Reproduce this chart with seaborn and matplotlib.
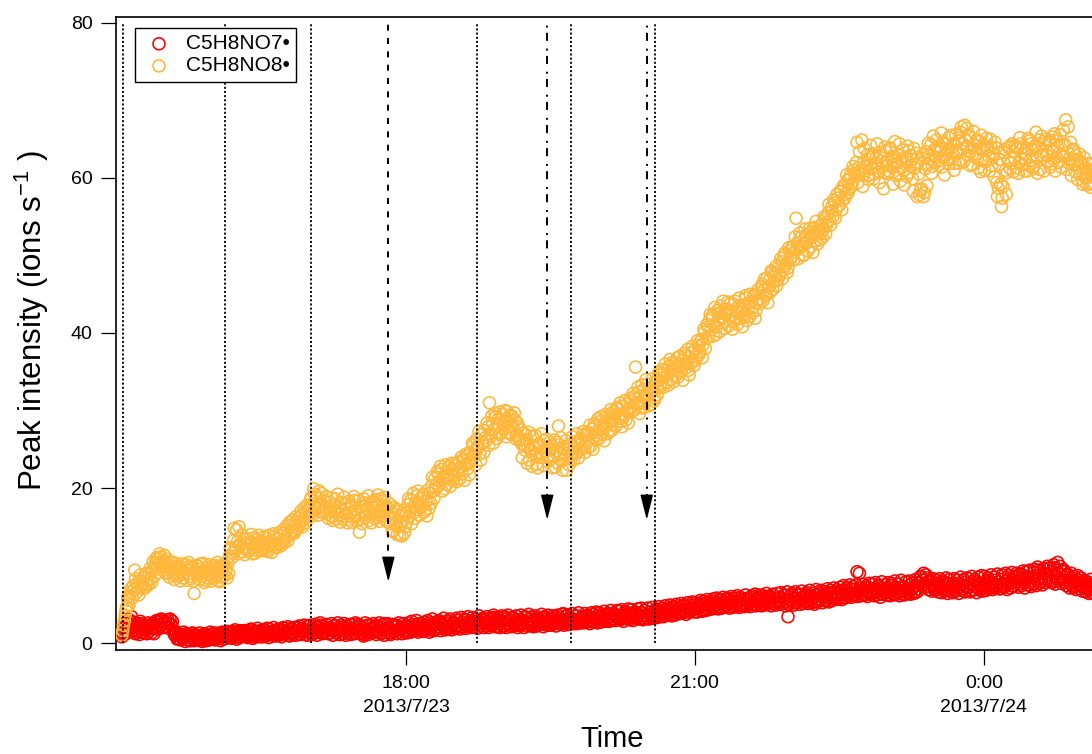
import numpy as np
import pandas as pd
import matplotlib
matplotlib.use('Agg')
import matplotlib.pyplot as plt
import matplotlib.dates as mdates
import seaborn as sns

# ---------------- data: samples every 30 s from 2013-07-23 15:03 ----------------
# "_min" lists hold the samples on the minute, "_half" lists the samples 30 s later
start_min = '2013-07-23 15:03:00'
start_half = '2013-07-23 15:03:30'

c5h8no7_min = [
    0.8, 1.3, 2.6, 1.5, 3.1, 2.0, 3.4,
    1.6, 2.3, 1.4, 2.0, 1.1, 2.5, 1.7, 1.3, 2.2, 1.8,
    1.5, 2.4, 1.9, 1.2, 2.1, 2.7, 2.9, 2.2, 3.0, 2.5,
    2.8, 2.1, 2.6, 3.1, 2.3, 1.6, 1.0, 1.3, 0.6, 0.9,
    1.1, 0.5, 0.8, 1.2, 0.4, 0.9, 0.7, 1.3, 0.3, 0.8,
    1.0, 0.6, 0.9, 0.2, 0.7, 1.1, 0.5, 0.8, 1.4, 0.6,
    0.9, 0.4, 1.0, 0.7, 1.2, 0.8, 0.5, 1.1, 0.9, 1.3,
    0.8, 1.2, 1.5, 0.9, 1.1, 1.4, 0.7, 1.3, 1.0, 1.6,
    1.2, 0.9, 1.4, 1.1, 1.7, 0.8, 1.3, 1.5, 1.0, 1.2,
    1.6, 1.1, 1.4, 0.9, 1.3, 1.8, 1.2, 1.5, 1.0, 1.4,
    1.7, 1.2, 1.5, 1.1, 1.9, 1.3, 1.6, 1.0, 1.4, 1.8,
    1.3, 1.6, 2.0, 1.2, 1.5, 1.8, 1.4, 1.1, 1.7, 2.2,
    1.5, 1.9, 1.3, 1.7, 2.1, 1.4, 1.6, 2.3, 1.2, 1.8,
    1.5, 2.0, 1.7, 1.3, 1.9, 1.6, 2.2, 1.4, 1.8, 1.1,
    1.7, 2.1, 1.5, 1.9, 1.3, 2.4, 1.6, 1.8, 1.2, 2.0,
    1.6, 2.2, 1.4, 1.9, 1.1, 1.7, 2.3, 1.5, 1.8, 2.0,
    1.4, 1.9, 2.2, 1.6, 1.3, 2.0, 1.7, 2.5, 1.5, 1.9,
    1.8, 1.3, 2.1, 1.6, 2.3, 1.7, 1.4, 2.0, 1.9, 1.5,
    2.2, 1.7, 2.0, 1.4, 2.4, 1.9, 1.6, 2.3, 1.8, 2.1,
    2.5, 1.8, 2.2, 1.6, 2.0, 2.6, 1.9, 2.3, 1.7, 2.4,
    2.1, 2.7, 1.9, 2.3, 2.0, 2.5, 1.8, 2.8, 2.2, 2.4,
    2.6, 2.0, 2.9, 2.3, 2.1, 2.7, 2.4, 3.0, 2.2, 2.5,
    2.8, 2.3, 2.6, 3.1, 2.4, 2.9, 2.2, 2.7, 3.2, 2.5,
    2.3, 2.8, 2.6, 3.0, 2.4, 3.3, 2.7, 2.1, 2.9, 2.5,
    2.8, 2.2, 3.1, 2.6, 2.4, 2.9, 3.2, 2.5, 2.7, 2.3,
    3.0, 2.6, 2.4, 2.9, 3.4, 2.7, 2.5, 3.1, 2.2, 2.8,
    2.6, 3.2, 2.4, 2.9, 2.7, 3.3, 2.5, 3.0, 2.8, 2.3,
    3.1, 2.7, 2.5, 3.4, 2.9, 2.6, 3.2, 2.8, 3.8, 2.7,
    3.0, 2.6, 3.3, 2.9, 3.1, 2.7, 3.5, 3.0, 2.8, 3.2,
    3.4, 2.9, 3.1, 3.6, 2.8, 3.3, 3.0, 3.7, 3.2, 2.9,
    3.5, 3.1, 3.3, 2.9, 3.6, 3.2, 3.8, 3.0, 3.4, 3.1,
    3.7, 3.3, 3.5, 4.1, 3.2, 3.6, 3.4, 3.9, 3.1, 3.5,
    3.8, 3.3, 3.6, 4.0, 3.4, 3.7, 3.2, 3.9, 3.5, 3.1,
    3.6, 3.3, 4.0, 3.5, 3.8, 3.4, 3.9, 4.2, 3.7, 4.0,
    3.8, 4.3, 3.9, 4.5, 4.1, 3.7, 4.4, 4.0, 4.6, 4.2,
    4.5, 4.1, 4.8, 4.3, 4.0, 4.7, 4.4, 4.9, 4.2, 4.6,
    4.4, 4.9, 4.5, 5.1, 4.7, 4.3, 5.0, 4.6, 5.3, 4.8,
    5.0, 4.6, 5.4, 4.9, 5.2, 4.7, 5.5, 5.1, 4.8, 5.3,
    4.9, 5.6, 5.2, 4.7, 5.4, 5.0, 5.8, 5.3, 4.9, 5.5,
    5.2, 5.7, 4.9, 5.4, 5.1, 5.9, 5.3, 5.6, 4.8, 5.5,
    5.4, 5.0, 5.8, 5.3, 5.6, 6.0, 5.2, 5.7, 5.4, 5.1,
    5.8, 5.5, 5.2, 5.9, 5.4, 5.7, 6.1, 5.3, 3.4, 5.6,
    5.5, 5.9, 5.2, 5.7, 6.2, 5.4, 5.8, 5.5, 6.0, 5.3,
    5.7, 5.4, 6.1, 5.6, 5.9, 5.3, 6.3, 5.7, 5.5, 6.0,
    5.8, 6.2, 5.6, 6.5, 5.9, 6.3, 6.0, 6.6, 5.8, 6.4,
    6.1, 6.7, 6.3, 5.9, 6.8, 6.4, 6.2, 7.0, 6.5, 6.9,
    6.3, 9.2, 6.6, 7.1, 6.4, 6.9, 6.2, 6.7, 7.2, 6.5,
    6.8, 6.4, 7.0, 6.6, 7.3, 6.7, 6.3, 7.1, 6.9, 6.5,
    7.0, 6.6, 7.4, 6.8, 6.2, 7.2, 6.9, 6.5, 7.1, 6.7,
    7.3, 6.8, 7.0, 6.4, 7.5, 6.9, 7.2, 6.6, 7.4, 7.0,
    7.8, 8.5, 8.1, 7.6, 8.8, 7.9, 7.3, 8.2, 7.5, 7.1,
    7.4, 6.9, 7.6, 7.2, 7.8, 7.0, 7.5, 6.8, 7.7, 7.3,
    7.1, 7.6, 7.3, 6.9, 7.7, 7.2, 7.5, 7.0, 7.8, 7.4,
    7.2, 7.7, 6.8, 7.5, 7.3, 7.9, 7.1, 7.6, 7.4, 7.0,
    7.6, 7.3, 8.0, 7.5, 7.8, 7.2, 7.7, 8.1, 7.4, 7.9,
    7.5, 8.2, 7.7, 7.3, 8.0, 7.6, 8.4, 7.8, 7.4, 8.1,
    7.9, 8.5, 7.6, 8.2, 8.8, 7.8, 8.3, 8.6, 7.5, 8.0,
    8.4, 9.1, 8.7, 8.1, 9.4, 8.5, 7.9, 9.0, 8.3, 8.8,
    9.6, 8.4, 9.2, 8.0, 9.7, 8.6, 10.4, 8.9, 8.2, 9.3,
    8.5, 7.8, 8.9, 8.1, 7.6, 8.4, 7.9, 7.3, 8.1, 7.6,
    7.4, 7.9, 7.2, 7.7, 7.0, 7.5, 6.9, 7.3, 7.1, 6.8,
]

c5h8no7_half = [
    1.1, 2.0, 1.2, 2.7, 1.9, 2.8, 2.4,
    2.7, 1.2, 2.5, 1.6, 2.8, 1.4, 2.3, 2.0, 1.2, 2.6,
    2.2, 1.3, 2.5, 1.9, 2.9, 1.8, 2.4, 3.1, 2.0, 2.8,
    2.0, 3.0, 1.9, 2.4, 2.8, 1.2, 1.5, 0.5, 1.1, 0.4,
    0.7, 1.4, 0.2, 0.9, 1.1, 0.3, 1.2, 0.5, 1.0, 0.4,
    0.5, 1.3, 0.4, 1.0, 1.2, 0.3, 1.0, 0.4, 0.7, 1.2,
    0.5, 1.3, 0.6, 1.1, 0.3, 1.4, 0.9, 0.6, 1.5, 0.7,
    1.4, 0.6, 1.0, 1.7, 0.5, 1.2, 1.6, 0.8, 1.5, 0.9,
    1.6, 0.7, 1.3, 1.8, 0.6, 1.5, 1.0, 1.9, 0.8, 1.6,
    0.8, 1.7, 1.0, 1.9, 0.7, 1.4, 1.1, 2.0, 0.9, 1.7,
    1.0, 1.8, 0.8, 2.0, 1.2, 1.5, 2.1, 0.9, 1.9, 1.1,
    2.0, 1.0, 1.6, 2.2, 1.1, 1.4, 2.3, 1.7, 1.0, 1.5,
    2.3, 1.1, 1.8, 2.4, 1.0, 2.0, 2.6, 1.3, 2.1, 1.4,
    2.4, 1.2, 1.9, 2.5, 1.0, 2.2, 1.3, 2.6, 1.1, 2.3,
    1.2, 2.5, 1.0, 2.2, 1.6, 1.1, 2.4, 1.3, 2.6, 1.5,
    2.4, 1.2, 2.0, 0.9, 2.6, 1.4, 1.1, 2.3, 1.3, 2.5,
    2.1, 1.1, 1.5, 2.6, 1.2, 2.4, 1.0, 1.8, 2.5, 1.3,
    1.1, 2.4, 1.5, 2.2, 1.2, 2.6, 1.9, 1.2, 2.5, 1.4,
    1.3, 2.6, 1.5, 2.8, 1.6, 2.2, 2.9, 1.4, 2.5, 1.7,
    1.5, 2.7, 1.8, 2.9, 1.4, 2.3, 3.1, 1.6, 2.7, 1.9,
    2.9, 1.6, 2.5, 3.2, 1.7, 2.8, 2.0, 3.1, 1.7, 2.6,
    1.9, 3.2, 2.2, 1.8, 3.3, 2.0, 2.9, 1.9, 3.4, 2.1,
    2.0, 3.3, 2.1, 2.8, 1.9, 3.5, 2.3, 3.1, 2.0, 3.0,
    3.4, 2.0, 3.2, 2.2, 3.6, 2.1, 3.0, 3.3, 2.0, 3.5,
    2.2, 3.4, 2.0, 3.6, 3.0, 2.1, 3.3, 2.4, 3.5, 2.0,
    2.3, 3.6, 2.9, 2.0, 3.3, 2.2, 3.7, 2.4, 3.4, 2.1,
    3.5, 2.2, 3.1, 2.4, 3.7, 2.1, 3.4, 2.3, 3.6, 3.0,
    2.3, 3.5, 3.2, 2.2, 3.6, 2.5, 2.4, 3.7, 2.3, 3.4,
    3.6, 2.4, 2.8, 3.8, 2.5, 3.5, 2.5, 3.9, 2.6, 3.3,
    2.6, 3.8, 2.7, 3.4, 2.5, 3.9, 2.7, 3.2, 4.0, 2.6,
    3.9, 2.7, 3.6, 4.1, 2.8, 3.7, 2.8, 4.2, 2.9, 3.8,
    2.9, 4.2, 3.1, 3.0, 4.3, 2.8, 4.1, 3.2, 4.4, 3.0,
    4.3, 2.9, 4.0, 3.2, 4.4, 3.1, 4.5, 3.0, 4.2, 3.6,
    4.5, 3.1, 3.7, 4.6, 3.2, 4.3, 3.3, 4.7, 3.4, 4.5,
    3.4, 4.8, 3.6, 4.2, 4.9, 3.5, 4.7, 3.6, 5.0, 3.9,
    3.8, 5.1, 3.9, 4.9, 3.7, 5.2, 4.0, 4.5, 5.3, 4.0,
    5.2, 4.0, 4.8, 5.5, 4.1, 5.4, 4.2, 5.6, 4.3, 5.2,
    4.4, 5.7, 4.5, 5.8, 4.4, 5.6, 4.5, 5.9, 4.6, 5.7,
    5.8, 4.5, 6.0, 4.6, 5.7, 4.7, 6.1, 4.6, 5.9, 4.8,
    4.7, 6.2, 4.8, 5.8, 4.7, 6.1, 4.9, 6.3, 5.0, 5.9,
    6.2, 4.8, 6.1, 4.9, 6.4, 5.0, 6.0, 4.8, 6.3, 5.1,
    4.9, 6.4, 5.0, 6.5, 5.1, 6.2, 4.8, 6.6, 5.0, 6.1,
    6.4, 4.9, 6.6, 5.2, 6.3, 5.0, 6.7, 5.1, 6.2, 6.5,
    5.1, 6.8, 5.2, 6.4, 5.0, 6.9, 5.3, 6.5, 6.8, 5.2,
    6.6, 5.4, 7.0, 5.3, 6.8, 5.5, 7.1, 5.6, 6.9, 5.7,
    7.2, 5.6, 7.4, 5.8, 7.1, 6.0, 7.5, 5.9, 7.3, 6.1,
    7.5, 6.0, 9.0, 6.1, 7.6, 6.2, 7.3, 6.0, 7.7, 6.3,
    7.6, 6.1, 7.8, 6.2, 7.4, 5.9, 7.9, 6.3, 7.5, 6.2,
    7.8, 6.1, 7.7, 6.4, 8.0, 6.3, 7.6, 6.1, 8.1, 6.4,
    6.2, 7.9, 6.5, 8.0, 6.3, 7.7, 6.4, 8.2, 6.6, 7.8,
    8.6, 7.4, 9.0, 7.2, 8.4, 6.9, 8.0, 6.7, 8.3, 6.8,
    8.1, 6.6, 8.3, 6.5, 8.0, 6.7, 8.4, 6.4, 8.2, 6.8,
    6.5, 8.3, 6.7, 8.1, 6.4, 8.5, 6.8, 8.2, 6.6, 8.4,
    8.3, 6.6, 8.6, 6.9, 8.2, 6.5, 8.5, 6.8, 8.7, 6.7,
    8.6, 6.8, 8.4, 7.0, 8.8, 6.9, 8.5, 7.1, 8.9, 7.0,
    7.0, 8.8, 7.2, 9.0, 6.9, 8.7, 7.1, 9.1, 7.3, 8.6,
    9.0, 7.2, 8.9, 7.4, 9.3, 7.1, 9.2, 7.5, 9.4, 7.3,
    7.6, 9.5, 7.4, 9.8, 7.7, 9.3, 7.5, 9.6, 7.8, 9.9,
    8.0, 9.7, 7.8, 10.1, 7.6, 9.4, 8.1, 9.9, 7.7, 9.5,
    9.2, 7.4, 8.8, 7.1, 9.0, 7.2, 8.6, 6.9, 8.7, 7.0,
    8.4, 6.7, 8.1, 6.6, 7.9, 6.4, 8.2, 6.5, 7.7, 6.3,
]

c5h8no8_min = [
    1.0, 2.3, 3.6, 4.7, 5.5, 6.1, 6.6,
    7.4, 9.4, 6.5, 7.2, 8.0, 7.3, 7.8, 8.4, 7.6, 8.1,
    8.9, 8.2, 9.3, 9.8, 10.4, 9.6, 10.9, 11.1, 10.3, 10.6,
    9.8, 10.2, 9.1, 9.7, 10.4, 8.8, 9.5, 9.9, 8.6, 9.2,
    9.6, 8.4, 9.0, 10.1, 8.9, 9.4, 8.3, 9.8, 6.4, 9.1,
    8.7, 9.5, 10.2, 8.6, 9.3, 8.1, 9.7, 8.9, 9.6, 8.5,
    9.2, 10.0, 8.8, 9.4, 7.9, 9.1, 9.8, 8.7, 9.5, 10.3,
    11.2, 12.1, 11.6, 14.8, 12.4, 13.1, 15.0, 12.6, 11.8, 12.9,
    12.2, 13.4, 11.9, 12.7, 13.0, 12.3, 11.6, 13.3, 12.5, 12.0,
    13.1, 12.4, 12.8, 13.6, 11.8, 12.9, 13.2, 12.6, 13.8, 12.7,
    13.4, 12.8, 13.9, 13.1, 14.2, 13.5, 14.6, 13.9, 15.2, 14.4,
    15.0, 14.5, 15.7, 16.1, 15.3, 16.4, 15.8, 16.9, 16.2, 17.1,
    17.6, 18.8, 16.9, 19.2, 18.1, 17.4, 19.6, 17.8, 16.8, 18.3,
    17.5, 16.6, 18.2, 17.0, 16.3, 17.9, 18.6, 16.8, 17.4, 15.6,
    17.1, 16.4, 18.0, 17.3, 15.9, 16.8, 17.7, 16.2, 18.4, 17.2,
    16.5, 14.3, 17.6, 16.9, 18.1, 16.6, 17.3, 15.8, 17.9, 16.7,
    17.4, 18.5, 16.2, 17.8, 16.9, 18.3, 17.1, 15.9, 17.6, 16.8,
    15.4, 16.8, 14.5, 16.1, 17.2, 15.0, 13.9, 16.4, 15.7, 14.2,
    16.9, 17.8, 16.3, 18.4, 17.5, 16.8, 18.1, 19.0, 17.6, 18.6,
    17.9, 18.8, 17.2, 16.4, 18.5, 19.4, 20.3, 19.6, 21.2, 20.5,
    21.8, 20.9, 22.4, 21.3, 19.9, 22.0, 21.5, 22.8, 21.1, 22.3,
    21.7, 22.9, 21.9, 23.4, 22.6, 21.8, 23.8, 22.9, 24.1, 23.3,
    24.6, 23.9, 25.5, 24.8, 26.3, 25.2, 24.4, 26.9, 25.8, 27.4,
    26.1, 27.9, 31.0, 26.7, 28.3, 27.6, 29.2, 28.0, 26.9, 28.8,
    29.5, 27.7, 28.6, 29.9, 27.2, 28.1, 29.3, 27.5, 28.7, 26.8,
    27.9, 26.4, 25.7, 27.1, 24.9, 26.2, 25.4, 23.6, 24.8, 26.6,
    25.1, 24.3, 22.6, 25.7, 24.6, 23.9, 26.1, 24.8, 25.3, 24.2,
    23.7, 25.5, 24.1, 22.7, 25.9, 28.0, 24.4, 23.5, 25.2, 24.0,
    22.3, 24.9, 25.6, 23.8, 24.7, 26.0, 24.5, 25.8, 24.9, 26.4,
    25.3, 26.9, 25.6, 27.2, 26.1, 25.4, 27.6, 26.5, 28.0, 26.8,
    27.5, 28.6, 26.9, 28.2, 27.8, 29.1, 28.4, 27.3, 29.6, 28.7,
    29.3, 28.1, 30.2, 29.0, 28.6, 30.6, 29.5, 28.8, 30.9, 29.9,
    31.2, 30.4, 31.8, 35.6, 30.7, 32.4, 31.0, 33.3, 30.5, 31.7,
    32.1, 31.4, 30.8, 33.0, 32.5, 31.6, 33.8, 32.9, 34.6, 33.5,
    34.2, 35.1, 33.6, 34.8, 35.7, 34.0, 36.2, 35.3, 34.5, 36.8,
    35.6, 34.9, 36.4, 35.9, 37.1, 36.0, 35.2, 36.9, 37.5, 36.3,
    37.8, 36.9, 38.4, 37.6, 39.2, 38.5, 40.1, 39.3, 40.8, 41.6,
    40.4, 42.3, 41.1, 39.8, 42.9, 41.7, 43.5, 42.0, 41.3, 43.1,
    42.6, 40.9, 43.8, 42.2, 41.5, 44.1, 42.8, 43.4, 41.9, 42.7,
    43.6, 42.4, 44.5, 43.0, 42.1, 44.0, 43.3, 44.9, 42.9, 44.3,
    45.2, 44.4, 46.3, 45.5, 44.8, 47.1, 46.0, 45.3, 47.8, 46.6,
    47.3, 46.1, 48.5, 47.6, 49.2, 48.1, 50.3, 49.0, 48.4, 50.6,
    49.8, 51.2, 50.4, 54.8, 51.7, 50.9, 52.3, 51.5, 50.1, 52.6,
    51.8, 52.9, 51.1, 52.4, 53.6, 51.9, 52.7, 53.2, 52.0, 54.0,
    53.4, 54.7, 53.9, 55.5, 54.6, 56.2, 55.0, 56.8, 55.9, 57.4,
    56.5, 58.2, 57.1, 58.8, 57.9, 59.7, 58.6, 60.4, 59.3, 61.0,
    60.2, 64.6, 61.3, 60.6, 64.9, 62.0, 60.9, 61.7, 59.8, 62.4,
    61.2, 63.1, 60.5, 62.6, 61.8, 59.4, 62.9, 61.5, 60.7, 63.4,
    62.1, 60.9, 63.7, 61.4, 62.8, 60.3, 61.9, 63.0, 59.6, 62.3,
    61.0, 62.7, 60.2, 63.5, 61.6, 62.4, 58.3, 61.3, 63.2, 62.0,
    57.8, 58.6, 62.5, 58.1, 63.4, 61.8, 62.9, 64.3, 61.5, 63.6,
    62.7, 64.1, 62.2, 63.9, 61.4, 64.6, 63.0, 62.4, 65.2, 63.7,
    62.6, 64.4, 61.9, 63.5, 64.8, 62.3, 66.6, 63.8, 66.8, 64.0,
    62.9, 65.3, 63.4, 61.7, 64.2, 63.1, 62.5, 64.7, 60.8, 63.6,
    64.3, 62.1, 63.9, 62.8, 65.0, 61.6, 63.3, 64.6, 59.4, 58.7,
    62.4, 56.3, 58.9, 63.7, 57.9, 62.2, 64.1, 61.9, 63.5, 62.6,
    61.3, 63.8, 62.0, 64.4, 61.7, 63.1, 62.5, 60.9, 64.8, 62.3,
    63.6, 61.5, 64.2, 62.7, 63.9, 61.1, 65.4, 62.9, 64.5, 63.0,
    62.2, 64.9, 61.8, 63.5, 65.7, 62.6, 64.0, 63.2, 61.4, 64.3,
    62.8, 67.5, 63.3, 61.9, 64.6, 62.1, 63.7, 60.8, 62.4, 61.6,
    60.5, 62.0, 59.6, 61.3, 60.2, 61.8, 59.3, 60.9, 60.1, 61.2,
]

c5h8no8_half = [
    1.6, 2.9, 4.2, 5.9, 4.9, 7.0, 5.8,
    6.9, 8.3, 7.7, 6.2, 8.8, 7.0, 8.6, 7.1, 9.0, 7.5,
    9.6, 7.8, 10.5, 8.7, 11.0, 9.1, 11.5, 10.0, 9.4, 11.3,
    9.0, 10.8, 8.5, 10.5, 9.4, 8.2, 10.3, 8.9, 9.8, 8.0,
    10.2, 8.9, 9.7, 8.1, 10.4, 8.6, 9.9, 8.0, 9.3, 10.0,
    9.9, 8.2, 9.0, 10.3, 7.8, 9.7, 8.4, 10.1, 8.0, 9.9,
    8.3, 9.6, 10.4, 8.1, 9.9, 8.5, 10.2, 9.3, 8.4, 9.0,
    12.3, 11.0, 13.2, 11.9, 14.6, 11.5, 12.8, 13.9, 12.3, 11.4,
    13.5, 11.8, 12.9, 14.0, 11.5, 13.6, 12.8, 11.9, 13.9, 12.6,
    11.9, 13.7, 12.2, 12.0, 13.9, 12.5, 11.7, 14.1, 12.3, 13.5,
    12.4, 14.3, 12.6, 14.6, 13.0, 15.1, 13.2, 15.6, 14.0, 15.9,
    14.2, 16.3, 14.8, 15.2, 17.0, 15.0, 17.4, 15.5, 17.8, 16.4,
    18.5, 16.4, 19.9, 17.2, 18.9, 16.5, 18.2, 19.3, 17.0, 17.7,
    18.9, 16.1, 17.6, 18.7, 15.8, 17.1, 16.0, 19.2, 16.5, 18.1,
    16.0, 18.8, 16.7, 15.5, 18.3, 17.9, 15.6, 18.9, 16.3, 15.8,
    18.4, 16.0, 15.4, 18.6, 16.2, 17.8, 19.0, 16.9, 15.5, 18.2,
    16.1, 17.0, 19.1, 15.7, 18.6, 16.4, 18.8, 17.5, 15.6, 18.0,
    16.9, 14.4, 17.5, 15.3, 14.0, 17.0, 15.2, 13.8, 17.1, 15.0,
    15.6, 18.6, 17.0, 15.4, 19.3, 16.1, 17.2, 19.6, 16.5, 17.5,
    19.2, 16.9, 18.3, 19.7, 17.4, 18.0, 21.4, 18.7, 20.0, 22.1,
    20.3, 22.8, 19.6, 21.1, 23.0, 20.5, 22.7, 20.2, 23.2, 21.0,
    23.1, 20.8, 22.4, 21.2, 24.0, 23.5, 21.0, 24.4, 22.5, 21.7,
    23.4, 25.8, 24.2, 23.0, 25.4, 27.3, 23.6, 25.9, 24.6, 26.5,
    28.4, 25.5, 27.0, 29.3, 25.8, 29.6, 26.4, 28.9, 29.8, 27.1,
    28.2, 30.0, 26.6, 28.8, 29.4, 26.9, 28.0, 29.7, 26.3, 28.4,
    26.2, 27.5, 23.9, 25.6, 26.9, 23.2, 27.2, 25.0, 22.8, 25.5,
    26.8, 23.1, 25.4, 24.0, 27.0, 22.9, 24.7, 26.3, 23.4, 25.9,
    25.0, 22.6, 26.2, 24.8, 23.2, 25.6, 26.5, 22.3, 24.6, 26.1,
    25.4, 23.0, 24.1, 26.6, 23.6, 25.1, 27.0, 23.9, 26.2, 25.0,
    27.3, 24.6, 26.8, 25.2, 28.1, 27.0, 25.0, 28.3, 26.2, 28.9,
    26.4, 29.2, 27.6, 26.1, 29.5, 27.0, 28.9, 30.1, 27.5, 29.9,
    28.0, 30.4, 29.3, 31.0, 27.9, 29.1, 31.3, 30.0, 28.4, 31.5,
    29.8, 32.2, 30.1, 31.0, 33.0, 29.6, 31.9, 30.3, 32.8, 34.0,
    33.4, 30.6, 32.3, 34.1, 31.2, 33.7, 32.0, 34.9, 33.1, 35.3,
    33.0, 36.0, 34.4, 33.3, 36.6, 35.0, 33.7, 36.1, 35.8, 34.3,
    37.0, 35.1, 33.9, 37.4, 35.5, 37.9, 34.6, 36.2, 38.3, 35.8,
    36.5, 39.0, 37.2, 38.9, 36.8, 40.5, 38.0, 41.1, 39.5, 42.4,
    41.9, 39.6, 43.3, 40.8, 42.5, 40.2, 42.7, 44.1, 40.6, 42.4,
    44.0, 41.6, 42.9, 40.5, 43.7, 42.0, 41.1, 44.5, 43.1, 40.8,
    42.0, 44.8, 41.6, 43.8, 45.0, 42.6, 44.7, 41.9, 43.9, 45.6,
    43.8, 46.0, 44.2, 47.0, 45.0, 43.9, 46.9, 48.0, 45.6, 47.6,
    48.6, 46.8, 47.4, 49.6, 47.0, 49.9, 48.7, 47.8, 51.0, 49.5,
    51.0, 49.4, 52.4, 50.8, 49.6, 52.9, 51.2, 50.0, 53.4, 51.6,
    50.6, 53.5, 52.5, 50.4, 52.9, 54.4, 51.5, 53.8, 52.9, 52.3,
    55.0, 52.8, 54.3, 56.6, 53.9, 55.7, 57.2, 54.8, 57.9, 56.4,
    58.3, 55.9, 59.0, 57.4, 60.4, 58.1, 59.9, 58.9, 61.5, 60.6,
    62.0, 59.4, 63.4, 61.0, 58.9, 63.8, 61.4, 63.0, 60.4, 64.2,
    62.8, 59.9, 61.9, 64.4, 60.8, 63.3, 62.2, 58.6, 64.0, 61.6,
    60.6, 63.9, 62.6, 59.2, 64.7, 62.2, 60.6, 64.4, 61.3, 63.6,
    59.1, 62.1, 64.1, 60.7, 62.9, 59.9, 63.8, 61.7, 57.6, 60.5,
    58.4, 63.0, 57.6, 61.2, 59.0, 64.5, 62.4, 60.6, 65.4, 62.1,
    64.9, 61.6, 63.4, 65.8, 62.8, 60.4, 64.4, 63.6, 61.9, 65.5,
    63.3, 61.0, 65.6, 63.2, 61.9, 65.9, 64.5, 62.1, 64.9, 66.4,
    65.6, 61.6, 63.9, 66.0, 62.7, 64.9, 61.3, 63.8, 65.5, 62.4,
    61.0, 65.1, 63.6, 60.9, 64.0, 62.6, 60.1, 63.9, 57.6, 61.7,
    59.2, 57.4, 63.3, 61.0, 60.7, 63.9, 61.2, 64.4, 60.8, 64.2,
    63.9, 60.6, 65.2, 62.4, 64.0, 60.9, 63.8, 65.1, 61.6, 64.4,
    61.2, 63.9, 65.9, 60.6, 64.9, 62.9, 63.4, 60.9, 65.0, 62.1,
    64.7, 61.4, 65.3, 62.4, 60.9, 64.8, 62.0, 65.6, 63.0, 66.2,
    64.3, 61.1, 66.6, 62.5, 60.3, 63.5, 61.7, 62.9, 59.8, 63.1,
    61.9, 59.2, 62.6, 60.0, 59.1, 61.9, 58.8, 61.1, 59.4, 60.3,
]

series_names = ['C5H8NO7\u2022', 'C5H8NO8\u2022']
series_colors = ['#FF0000', '#FFB83C']

tick_times = ['2013-07-23 18:00', '2013-07-23 21:00', '2013-07-24 00:00']
tick_labels = ['18:00\n2013/7/23', '21:00', '0:00\n2013/7/24']
y_ticks = [0, 20, 40, 60, 80]

dotted_times = ['2013-07-23 15:04', '2013-07-23 16:07', '2013-07-23 17:01',
                '2013-07-23 18:44', '2013-07-23 19:43', '2013-07-23 20:35']
dashed_times = ['2013-07-23 17:49']
dashed_tips = [7.9]
dashdot_times = ['2013-07-23 19:28', '2013-07-23 20:30']
dashdot_tips = [15.9, 15.9]

x_range = ['2013-07-23 14:59:20', '2013-07-24 01:18:00']
y_range = [-0.9, 80.77]

# ---------------- build tidy frames ----------------
def make_frame(values_min, values_half, name):
    t1 = pd.date_range(start_min, periods=len(values_min), freq='1min')
    t2 = pd.date_range(start_half, periods=len(values_half), freq='1min')
    df = pd.DataFrame({'Time': list(t1) + list(t2),
                       'Intensity': list(values_min) + list(values_half),
                       'Species': name})
    return df.sort_values('Time').reset_index(drop=True)

frames = [make_frame(c5h8no7_min, c5h8no7_half, series_names[0]),
          make_frame(c5h8no8_min, c5h8no8_half, series_names[1])]

# ---------------- style ----------------
sns.set_theme(style='ticks', rc={
    'axes.edgecolor': 'black', 'text.color': 'black', 'axes.labelcolor': 'black',
    'xtick.color': 'black', 'ytick.color': 'black',
})
plt.rcParams['font.family'] = ['Liberation Sans', 'DejaVu Sans']
plt.rcParams['lines.scale_dashes'] = False

W, H = 1092, 754
fig = plt.figure(figsize=(W / 100, H / 100), dpi=100)
ax_left, ax_right, ax_top, ax_bottom = 116, 1109, 17, 650
ax = fig.add_axes([ax_left / W, 1 - ax_bottom / H, (ax_right - ax_left) / W, (ax_bottom - ax_top) / H])

for df, col, name in zip(frames, series_colors, series_names):
    sns.scatterplot(data=df, x='Time', y='Intensity', ax=ax, marker='o', s=74,
                    facecolors='none', edgecolors=col, linewidths=1.15,
                    label=name, zorder=3)

# reference lines
to_num = lambda ts: mdates.date2num(pd.to_datetime(ts))
ax.vlines([to_num(t) for t in dotted_times], 0, 80, colors='black',
          linestyles=[(0, (1.5, 1.5))], linewidth=1.3, zorder=4)

head_len = 2.3
for times, tips, dash in ((dashed_times, dashed_tips, (0, (4.3, 5.3))),
                          (dashdot_times, dashdot_tips, (0, (5.8, 3.8, 1.4, 5.6)))):
    for t, tip in zip(times, tips):
        xv = to_num(t)
        ax.vlines([xv], tip + head_len, 80, colors='black', linestyles=[dash],
                  linewidth=1.4, zorder=4)
        ax.annotate('', xy=(xv, tip), xytext=(xv, tip + head_len),
                    arrowprops=dict(arrowstyle='-|>,head_length=1.3,head_width=0.33',
                                    color='black', lw=1.0, shrinkA=0, shrinkB=0),
                    zorder=5)

# axes
ax.set_xlim(pd.to_datetime(x_range[0]), pd.to_datetime(x_range[1]))
ax.set_ylim(*y_range)
ax.set_xticks([to_num(t) for t in tick_times])
ax.set_xticklabels(tick_labels)
for lbl in ax.get_xticklabels():
    lbl.set_linespacing(1.55)
ax.set_yticks(y_ticks)
ax.tick_params(axis='both', direction='out', length=10.5, width=0.9, labelsize=14, colors='black')
ax.tick_params(axis='x', pad=7.5)
ax.tick_params(axis='y', pad=6.5)
for sp in ax.spines.values():
    sp.set_linewidth(1.2)
    sp.set_color('black')

ax.set_xlabel('Time', fontsize=21)
ax.set_ylabel('Peak intensity (ions s$^{\\mathregular{-1}}$ )', fontsize=22.5)
ax.xaxis.set_label_coords(0.5, -(725 - ax_bottom) / (ax_bottom - ax_top))
ax.yaxis.set_label_coords(-(ax_left - 51) / (ax_right - ax_left), 0.52)

leg = ax.legend(loc='upper left',
                bbox_to_anchor=((135 - ax_left) / (ax_right - ax_left), (ax_bottom - 28) / (ax_bottom - ax_top)),
                borderaxespad=0, frameon=True, fancybox=False, fontsize=15,
                handlelength=1.7, handletextpad=0.45, borderpad=0.3, labelspacing=0.15,
                markerscale=1.0)
leg.get_frame().set_edgecolor('black')
leg.get_frame().set_linewidth(1.0)
leg.get_frame().set_alpha(1)

fig.savefig('out.png', dpi=100)
